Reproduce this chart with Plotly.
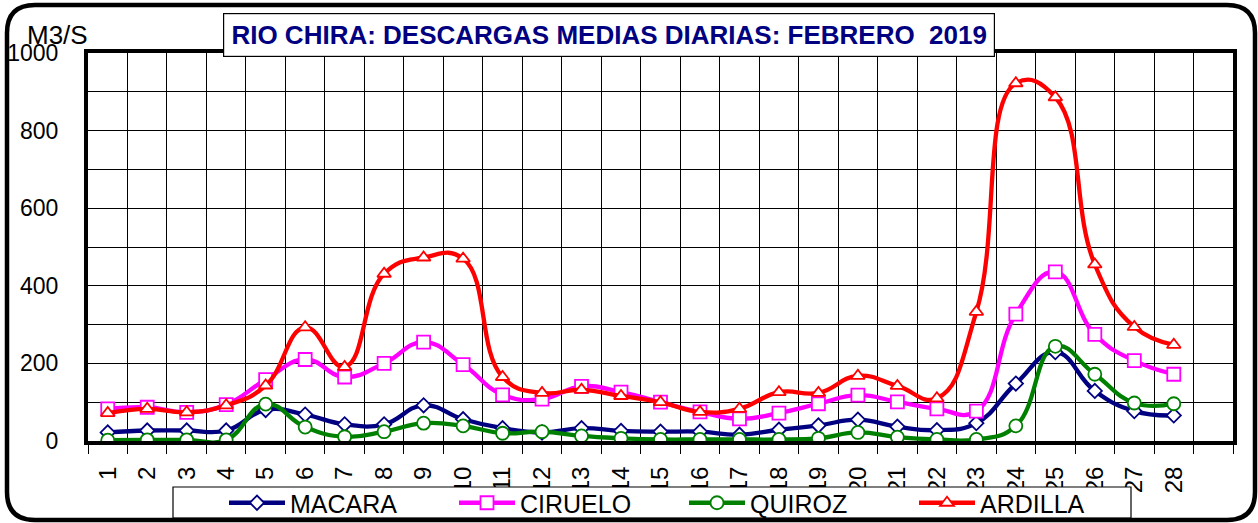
import plotly.graph_objects as go

days = list(range(1, 29))
macara = [22, 27, 27, 27, 80, 68, 43, 43, 92, 56, 33, 22, 33, 26, 24, 24, 16, 29, 40, 55, 37, 28, 46, 148, 229, 129, 77, 66]
ciruelo = [83, 87, 74, 94, 158, 210, 165, 200, 255, 197, 119, 108, 141, 126, 100, 75, 57, 72, 96, 118, 101, 83, 77, 327, 436, 275, 207, 172]
quiroz = [2, 3, 3, 3, 95, 36, 11, 24, 46, 39, 20, 24, 13, 7, 4, 4, 4, 4, 7, 22, 10, 4, 4, 39, 244, 172, 98, 96]
ardilla = [72, 83, 74, 92, 143, 293, 191, 431, 473, 470, 165, 124, 132, 116, 100, 75, 83, 126, 124, 168, 142, 110, 333, 922, 886, 455, 294, 248]
tick_labels = [str(d) for d in days]

series = [
    ("MACARA", macara, "#000080", "diamond", 11),
    ("CIRUELO", ciruelo, "#FF00FF", "square", 13),
    ("QUIROZ", quiroz, "#008000", "circle", 13),
    ("ARDILLA", ardilla, "#FF0000", "triangle-up", 12),
]

FONT = "Liberation Sans, Arial, sans-serif"

W, H = 1258, 523
L, R, T, B = 88, 25, 53, 82
PW, PH = W - L - R, H - T - B


def px(x):
    return (x - L) / PW


def py(y):
    return (H - B - y) / PH


fig = go.Figure()
for name, vals, color, sym, size in series:
    fig.add_trace(go.Scatter(
        x=days, y=vals, name=name, mode="lines+markers",
        line=dict(color=color, width=4.3, shape="spline", smoothing=1.3),
        marker=dict(symbol=sym, size=size, color="white", line=dict(color=color, width=1.8)),
    ))

# outer rounded frame
x0, x1, y0, y1 = px(7), px(1255), py(520), py(5)
rx, ry = 28 / PW, 28 / PH
frame = (f"M{x0+rx},{y1} L{x1-rx},{y1} Q{x1},{y1} {x1},{y1-ry} L{x1},{y0+ry} "
         f"Q{x1},{y0} {x1-rx},{y0} L{x0+rx},{y0} Q{x0},{y0} {x0},{y0+ry} "
         f"L{x0},{y1-ry} Q{x0},{y1} {x0+rx},{y1} Z")

fig.update_layout(
    width=W, height=H,
    margin=dict(l=L, r=R, t=T, b=B, autoexpand=False),
    paper_bgcolor="white", plot_bgcolor="white",
    font=dict(family=FONT, color="black", size=22),
    showlegend=True,
    legend=dict(
        orientation="h", x=px(224), xanchor="left", y=py(503), yanchor="middle",
        bgcolor="rgba(0,0,0,0)", borderwidth=0,
        font=dict(family=FONT, size=25, color="black"),
        entrywidth=159, entrywidthmode="pixels", itemwidth=56,
        tracegroupgap=0,
    ),
    shapes=[
        dict(type="rect", xref="paper", yref="paper", x0=px(173), x1=px(1131), y0=py(518), y1=py(487),
             line=dict(color="black", width=1.2), fillcolor="white", layer="above"),
        dict(type="path", xref="paper", yref="paper", path=frame,
             line=dict(color="black", width=4.5), fillcolor="rgba(0,0,0,0)", layer="above"),
    ],
    annotations=[
        dict(text="<b>RIO CHIRA: DESCARGAS MEDIAS DIARIAS: FEBRERO  2019</b>",
             xref="paper", yref="paper", x=px(609), y=py(35), xanchor="center", yanchor="middle",
             showarrow=False, font=dict(family=FONT, size=26, color="#000080"),
             bgcolor="white", bordercolor="black", borderwidth=1.2,
             width=766, height=38, borderpad=2),
        dict(text="M3/S", xref="paper", yref="paper", x=px(25), y=py(35), xanchor="left", yanchor="middle",
             showarrow=False, font=dict(family=FONT, size=26, color="black")),
    ],
)

fig.update_xaxes(
    range=[0.5, 29.5], tickmode="array", tickvals=days, ticktext=tick_labels,
    tickangle=-90, ticks="", showgrid=False, zeroline=False, automargin=False,
    showline=True, linecolor="black", linewidth=4, mirror=True,
    tickfont=dict(family=FONT, size=24, color="black"), ticklabelstandoff=12,
    minor=dict(tickmode="linear", tick0=0.5, dtick=1, ticks="outside", ticklen=9,
               tickcolor="black", tickwidth=1, showgrid=True, gridcolor="black", gridwidth=1.3),
)
# main y axis: labels pushed out by an invisible long tick
fig.update_layout(yaxis=dict(
    range=[0, 1000], tickmode="linear", tick0=0, dtick=200, automargin=False,
    ticks="outside", ticklen=21, tickcolor="rgba(0,0,0,0)", tickwidth=1,
    showgrid=True, gridcolor="black", gridwidth=1.3, zeroline=False,
    showline=True, linecolor="black", linewidth=4, mirror=True,
    tickfont=dict(family=FONT, size=23, color="black"),
    minor=dict(dtick=100, showgrid=True, gridcolor="black", gridwidth=1.3, ticks=""),
))
# overlay axis that only draws the short visible tick marks
fig.update_layout(yaxis2=dict(
    overlaying="y", side="left", range=[0, 1000], tickmode="linear", tick0=0, dtick=200,
    automargin=False, ticks="outside", ticklen=8, tickcolor="black", tickwidth=1,
    showticklabels=False, showgrid=False, zeroline=False, showline=False,
))

fig.write_html(
    "out.html",
    config={"displayModeBar": False},
    post_script="document.body.style.margin='0';document.body.style.padding='0';document.body.style.overflow='hidden';",
)
